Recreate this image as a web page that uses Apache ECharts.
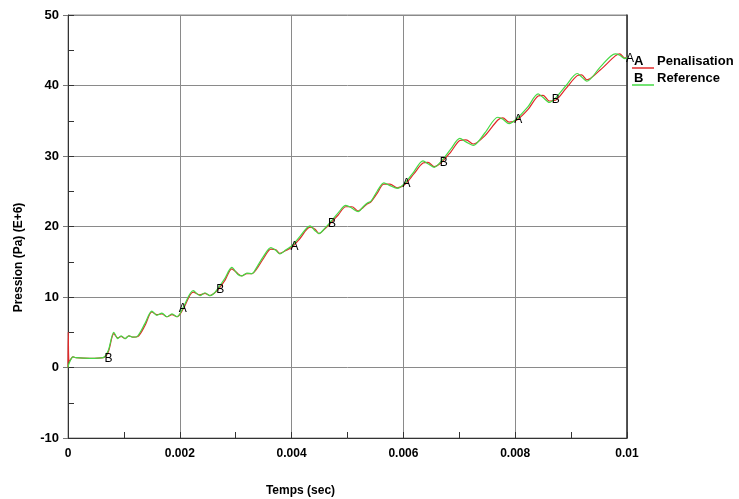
<!DOCTYPE html>
<html>
<head>
<meta charset="utf-8">
<script src="https://cdn.jsdelivr.net/npm/echarts@6/dist/echarts.min.js"></script>
<style>
  html, body { margin: 0; padding: 0; background: #fff; }
  #chart { width: 739px; height: 499px; }
</style>
</head>
<body>
<div id="chart"></div>
<script>
// courbe B : Reference
var timeRef = [0, 0.00002, 0.00009, 0.00014, 0.00039, 0.00063, 0.00072, 0.00082, 0.00089, 0.00095,
  0.00102, 0.00109, 0.00116, 0.00125, 0.00138, 0.0015, 0.00159, 0.00168, 0.00177, 0.00186,
  0.00195, 0.00206, 0.00224, 0.00236, 0.00245, 0.00254, 0.00261, 0.00268, 0.00281, 0.00293,
  0.00304, 0.00311, 0.0032, 0.00329, 0.00336, 0.0035, 0.00363, 0.00372, 0.00379, 0.0039,
  0.00401, 0.00415, 0.00433, 0.00442, 0.00449, 0.0046, 0.00469, 0.00483, 0.00497, 0.00508,
  0.00519, 0.00528, 0.00535, 0.00542, 0.00553, 0.00565, 0.00576, 0.00589, 0.00603, 0.00619,
  0.00635, 0.00644, 0.00655, 0.00667, 0.00685, 0.00701, 0.00712, 0.00725, 0.00746, 0.00769,
  0.00778, 0.00789, 0.00803, 0.00823, 0.00841, 0.0085, 0.00861, 0.00872, 0.00891, 0.00911,
  0.00919, 0.00928, 0.00952, 0.00979, 0.00987, 0.00996, 0.01];
var presRef = [0, 0.6, 1.5, 1.4, 1.3, 1.4, 2.4, 5.0, 4.1, 4.5,
  4.1, 4.5, 4.3, 4.5, 6.3, 8.0, 7.4, 7.7, 7.2, 7.6,
  7.2, 8.5, 10.9, 10.2, 10.6, 10.2, 10.5, 11.2, 12.7, 14.2,
  13.2, 13.0, 13.4, 13.3, 14.0, 15.8, 17.0, 16.6, 16.1, 16.7,
  17.3, 18.6, 20.1, 19.4, 19.0, 19.8, 20.6, 21.9, 23.0, 22.6,
  22.1, 22.8, 23.3, 23.6, 25.0, 26.2, 25.8, 25.4, 26.2, 27.8,
  29.3, 28.9, 28.4, 29.2, 31.0, 32.5, 32.0, 31.5, 33.3, 35.5,
  35.2, 34.6, 35.3, 37.0, 38.8, 38.3, 37.6, 38.2, 40.0, 41.7,
  41.2, 40.6, 42.6, 44.5, 44.3, 43.8, 44.0];

// courbe A : Penalisation
var timePen = [0, 0.000005, 0.00002, 0.00009, 0.00014, 0.00039, 0.00063, 0.00072, 0.00082, 0.00089, 0.00095,
  0.00102, 0.00109, 0.00116, 0.00125, 0.00138, 0.0015, 0.00159, 0.00168, 0.00177, 0.00186,
  0.00195, 0.00206, 0.00224, 0.00236, 0.00245, 0.00254, 0.00261, 0.00268, 0.00281, 0.00293,
  0.00304, 0.00311, 0.0032, 0.00329, 0.00336, 0.0035, 0.00363, 0.00372, 0.00379, 0.0039,
  0.00401, 0.00415, 0.00433, 0.00442, 0.00449, 0.0046, 0.00469, 0.00483, 0.00497, 0.00508,
  0.00519, 0.00528, 0.00535, 0.00542, 0.00553, 0.00565, 0.00576, 0.00589, 0.00603, 0.00619,
  0.00635, 0.00644, 0.00655, 0.00667, 0.00685, 0.00701, 0.00712, 0.00725, 0.00746, 0.00769,
  0.00778, 0.00789, 0.00803, 0.00823, 0.00841, 0.0085, 0.00861, 0.00872, 0.00891, 0.00911,
  0.00919, 0.00928, 0.00952, 0.00979, 0.00987, 0.00996, 0.01];
var presPen = [0, 5.0, 0.8, 1.5, 1.4, 1.3, 1.4, 2.2, 4.8, 4.2, 4.4,
  4.1, 4.5, 4.3, 4.4, 6.0, 7.9, 7.5, 7.6, 7.2, 7.5,
  7.2, 8.3, 10.7, 10.3, 10.5, 10.2, 10.5, 11.0, 12.4, 14.0,
  13.3, 13.0, 13.3, 13.3, 13.8, 15.5, 16.8, 16.7, 16.2, 16.6,
  17.1, 18.3, 19.9, 19.6, 19.0, 19.7, 20.4, 21.6, 22.8, 22.8,
  22.2, 22.7, 23.2, 23.5, 24.7, 26.0, 26.0, 25.5, 26.0, 27.5,
  29.0, 29.1, 28.5, 29.0, 30.6, 32.2, 32.3, 31.7, 32.9, 35.1,
  35.4, 34.8, 35.1, 36.6, 38.5, 38.6, 37.8, 37.9, 39.6, 41.4,
  41.5, 40.8, 42.2, 44.2, 44.5, 43.9, 44.0];

// reperes A / B sur les courbes
var markTimeA = [0.002, 0.004, 0.006, 0.008, 0.01];
var markPresA = [8.5, 17.3, 26.2, 35.3, 44.0];
var markTimeB = [0.00067, 0.00267, 0.00467, 0.00667, 0.00867];
var markPresB = [1.4, 11.2, 20.6, 29.2, 38.2];

var xTicks = [0, 0.002, 0.004, 0.006, 0.008, 0.01];
var yTicks = [-10, 0, 10, 20, 30, 40, 50];

function pairs(xs, ys) {
  return xs.map(function (x, i) { return [x, ys[i]]; });
}
function marks(xs, ys, letter) {
  return xs.map(function (x, i) {
    return { coord: [x, ys[i]], value: letter };
  });
}

var FONT = '"Liberation Sans", Arial, sans-serif';
var RED = '#e02a2a';
var GREEN = '#44da44';

var chart = echarts.init(document.getElementById('chart'));

var markStyle = {
  symbol: 'circle',
  symbolSize: 1,
  itemStyle: { color: 'rgba(0,0,0,0)' },
  label: {
    show: true,
    position: 'inside',
    offset: [3, 1],
    color: '#000',
    fontFamily: FONT,
    fontSize: 12,
    formatter: function (p) { return p.value; }
  }
};

var option = {
  animation: false,
  backgroundColor: '#fff',
  grid: {
    left: 68, right: 112, top: 15, bottom: 61,
    outerBoundsMode: 'none',
    show: true, borderColor: '#8a8a8a', borderWidth: 1
  },
  xAxis: {
    type: 'value',
    min: xTicks[0], max: xTicks[xTicks.length - 1], interval: 0.002,
    name: 'Temps (sec)',
    nameLocation: 'middle',
    nameGap: 47,
    nameTextStyle: {
      fontFamily: FONT, fontWeight: 'bold', fontSize: 12, color: '#000',
      padding: [0, 94, 0, 0]
    },
    axisLine: { show: true, onZero: false, lineStyle: { color: '#333', width: 1 } },
    axisTick: { show: true, inside: true, length: 6, lineStyle: { color: '#333' } },
    minorTick: { show: true, splitNumber: 2, length: 6, lineStyle: { color: '#333' } },
    axisLabel: { fontFamily: FONT, fontWeight: 'bold', fontSize: 12, color: '#000', margin: 10 },
    splitLine: { show: true, lineStyle: { color: '#8a8a8a', width: 1 } }
  },
  yAxis: [{
    type: 'value',
    min: yTicks[0], max: yTicks[yTicks.length - 1], interval: 10,
    name: 'Pression (Pa) (E+6)',
    nameLocation: 'middle',
    nameGap: 43,
    nameRotate: 90,
    nameTextStyle: {
      fontFamily: FONT, fontWeight: 'bold', fontSize: 12, color: '#000',
      padding: [0, 62, 0, 0]
    },
    axisLine: { show: true, onZero: false, lineStyle: { color: '#333', width: 1 } },
    axisTick: { show: true, inside: true, length: 6, lineStyle: { color: '#333' } },
    minorTick: { show: true, splitNumber: 2, length: 6, lineStyle: { color: '#333' } },
    axisLabel: { fontFamily: FONT, fontWeight: 'bold', fontSize: 13, color: '#000', margin: 9 },
    splitLine: { show: true, lineStyle: { color: '#8a8a8a', width: 1 } }
  }, {
    // graduations majeures vers l'exterieur a gauche
    type: 'value',
    position: 'left',
    min: yTicks[0], max: yTicks[yTicks.length - 1], interval: 10,
    axisLine: { show: false },
    axisTick: { show: true, inside: false, length: 5, lineStyle: { color: '#777' } },
    axisLabel: { show: false },
    splitLine: { show: false }
  }, {
    type: 'value',
    position: 'right',
    min: yTicks[0], max: yTicks[yTicks.length - 1], interval: 10,
    axisLine: { show: true, lineStyle: { color: '#333', width: 1.5 } },
    axisTick: { show: false },
    axisLabel: { show: false },
    splitLine: { show: false }
  }],
  series: [
    {
      name: 'Penalisation',
      type: 'line',
      data: pairs(timePen, presPen),
      showSymbol: false,
      smooth: 0.3,
      lineStyle: { color: RED, width: 1.2 },
      markPoint: Object.assign({ data: marks(markTimeA, markPresA, 'A') }, markStyle),
      z: 2
    },
    {
      name: 'Reference',
      type: 'line',
      data: pairs(timeRef, presRef),
      showSymbol: false,
      smooth: 0.3,
      lineStyle: { color: GREEN, width: 1.2 },
      markPoint: Object.assign({ data: marks(markTimeB, markPresB, 'B') }, markStyle),
      z: 3
    }
  ],
  graphic: [
    { type: 'text', left: 634, top: 55, style: { text: 'A', font: 'bold 13px ' + FONT, fill: '#000' } },
    { type: 'text', left: 657, top: 55, style: { text: 'Penalisation', font: 'bold 13px ' + FONT, fill: '#000' } },
    { type: 'line', z: 10, shape: { x1: 632, y1: 68, x2: 654, y2: 68 }, style: { stroke: RED, lineWidth: 1.5 } },
    { type: 'text', left: 634, top: 72, style: { text: 'B', font: 'bold 13px ' + FONT, fill: '#000' } },
    { type: 'text', left: 657, top: 72, style: { text: 'Reference', font: 'bold 13px ' + FONT, fill: '#000' } },
    { type: 'line', z: 10, shape: { x1: 632, y1: 85, x2: 654, y2: 85 }, style: { stroke: GREEN, lineWidth: 1.5 } }
  ]
};

chart.setOption(option);
</script>
</body>
</html>
